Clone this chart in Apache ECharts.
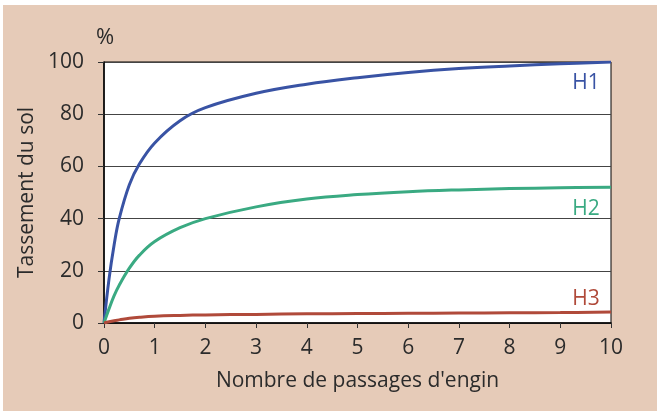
<!DOCTYPE html>
<html><head><meta charset="utf-8">
<script src="https://cdn.jsdelivr.net/npm/echarts@6/dist/echarts.min.js"></script>
<style>
html,body{margin:0;padding:0;background:#fff;}
#wrap{position:absolute;left:3px;top:5px;width:654px;height:406px;background:#e6cbb8;}
#c{position:absolute;left:-3px;top:-5px;width:657px;height:411px;}
</style></head>
<body><div id="wrap"><div id="c"></div></div>
<script>
const xs = [0,0.1,0.2,0.3,0.5,0.7,1,1.5,2,3,4,5,6,7,8,9,10];
const h1 = [0,17,30,40,53,61,69,77.5,82.5,88,91.5,94,96,97.5,98.5,99.3,100];
const h2 = [0,5.5,10.5,14.5,21,26,31.2,36.5,40,44.5,47.5,49.2,50.3,51,51.5,51.8,52];
const h3 = [0,0.5,0.9,1.2,1.8,2.2,2.6,2.9,3.1,3.3,3.5,3.6,3.7,3.8,3.9,4.0,4.2];
const seriesNames = ['H1','H2','H3'];
const colors = ['#3953a4','#3aaa82','#b04a3a'];
const labelPos = [[9.78,92],[9.78,43.6],[9.78,9.3]];
const xTicks = [0,1,2,3,4,5,6,7,8,9,10];
const yTicks = [0,20,40,60,80,100];

const font = '"Open Sans", sans-serif';
const chart = echarts.init(document.getElementById('c'));
const dataSets = [h1,h2,h3];
const pct = {type:'text',left:96,top:27,style:{text:'%',font:'22px '+font,fill:'#2b2b2b'}};
chart.setOption({
  animation:false,
  grid:{left:104,right:46,top:62,bottom:88,show:true,backgroundColor:'#fff',borderColor:'#000',borderWidth:1},
  xAxis:{type:'value',min:0,max:10,interval:1,
    name:'Nombre de passages d\'engin',nameLocation:'middle',nameGap:48,
    nameTextStyle:{fontFamily:font,fontSize:21,color:'#2b2b2b'},
    axisLine:{lineStyle:{color:'#000',width:1.5}},
    axisTick:{show:true,length:5,lineStyle:{color:'#333'}},
    axisLabel:{fontFamily:font,fontSize:21,color:'#2b2b2b',margin:15,formatter:v=>xTicks.includes(v)?String(v):''},
    splitLine:{show:false}},
  yAxis:{type:'value',min:0,max:100,interval:20,
    name:'Tassement du sol',nameLocation:'middle',nameGap:66,nameRotate:90,
    nameTextStyle:{fontFamily:font,fontSize:21,color:'#2b2b2b'},
    axisLine:{show:true,lineStyle:{color:'#000',width:1.5}},
    axisTick:{show:true,length:6,lineStyle:{color:'#333'}},
    axisLabel:{fontFamily:font,fontSize:21,color:'#2b2b2b',margin:20,formatter:v=>yTicks.includes(v)?String(v):''},
    splitLine:{show:true,lineStyle:{color:'#444',width:1}}},
  graphic:[pct],
  series: seriesNames.map((n,i)=>({
    name:n,type:'line',smooth:0.4,symbol:'none',
    lineStyle:{color:colors[i],width:3},
    data: xs.map((x,j)=>[x,dataSets[i][j]])
  }))
});
const g = seriesNames.map((n,i)=>{
  const p = chart.convertToPixel({gridIndex:0},labelPos[i]);
  return {type:'text',x:p[0],y:p[1],style:{text:n,font:'21px '+font,fill:colors[i],align:'right',verticalAlign:'middle'}};
});
chart.setOption({graphic:[pct].concat(g)});
</script></body></html>
